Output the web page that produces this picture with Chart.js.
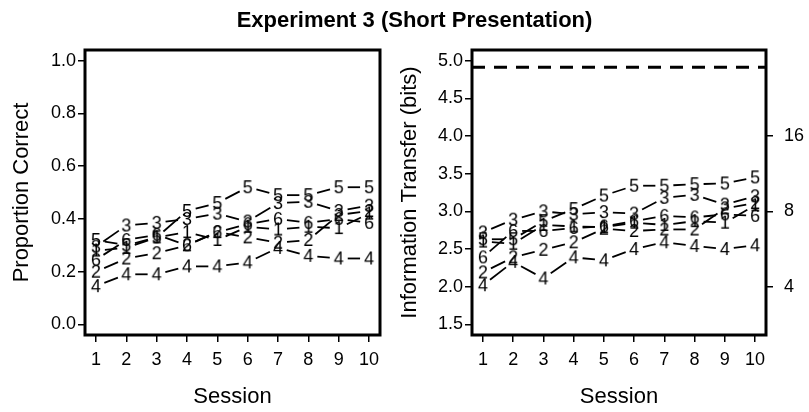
<!DOCTYPE html>
<html>
<head>
<meta charset="utf-8">
<script src="https://cdn.jsdelivr.net/npm/chart.js@4.4.1/dist/chart.umd.min.js"></script>
<style>
  body { margin: 0; background: #fff; }
  #wrap { position: relative; width: 809px; height: 412px; overflow: hidden; font-family: "Liberation Sans", Arial, sans-serif; }
  #title { position: absolute; left: 0; top: 6px; width: 829px; text-align: center; font-weight: bold; font-size: 22px; line-height: 28px; color: #000; }
  #left { position: absolute; left: 0; top: 0; }
  #right { position: absolute; left: 390px; top: 0; }
</style>
</head>
<body>
<div id="wrap">
  <canvas id="left" width="405" height="412"></canvas>
  <canvas id="right" width="419" height="412"></canvas>
  <div id="title">Experiment 3 (Short Presentation)</div>
</div>
<script>
const sessions = [1, 2, 3, 4, 5, 6, 7, 8, 9, 10]
const groups = ['1', '2', '3', '4', '5', '6']

// proportion correct per session, one row per group
const propCorrect = [
  [0.28, 0.29, 0.33, 0.35, 0.32, 0.37, 0.36, 0.37, 0.365, 0.42],
  [0.20, 0.25, 0.27, 0.30, 0.35, 0.33, 0.31, 0.32, 0.415, 0.43],
  [0.295, 0.375, 0.385, 0.40, 0.42, 0.39, 0.46, 0.465, 0.43, 0.45],
  [0.145, 0.19, 0.19, 0.22, 0.22, 0.235, 0.29, 0.26, 0.25, 0.25],
  [0.32, 0.30, 0.33, 0.43, 0.46, 0.52, 0.49, 0.49, 0.52, 0.52],
  [0.245, 0.32, 0.34, 0.30, 0.35, 0.38, 0.40, 0.385, 0.40, 0.385]
]

// information transfer in bits, same layout
const infoBits = [
  [2.60, 2.57, 2.82, 2.80, 2.79, 2.85, 2.82, 2.87, 2.85, 3.08],
  [2.19, 2.39, 2.49, 2.59, 2.77, 2.74, 2.76, 2.76, 3.04, 3.11],
  [2.72, 2.89, 3.00, 2.96, 2.99, 2.97, 3.18, 3.22, 3.09, 3.20],
  [2.02, 2.33, 2.11, 2.39, 2.35, 2.50, 2.59, 2.54, 2.50, 2.55],
  [2.63, 2.63, 2.87, 3.03, 3.21, 3.34, 3.34, 3.36, 3.37, 3.45],
  [2.39, 2.74, 2.74, 2.78, 2.80, 2.87, 2.94, 2.92, 2.96, 2.94]
]

const pcTicks = [0, 0.2, 0.4, 0.6, 0.8, 1.0]
const bitsTicks = [1.5, 2, 2.5, 3, 3.5, 4, 4.5, 5]
const setSizeTicks = [4, 8, 16]
const maxBits = 4.91

Chart.defaults.font.family = '"Liberation Sans", Arial, sans-serif'
Chart.defaults.color = '#000'

// each group is plotted with its number as the symbol
const digitImage = (d) => {
    const c = document.createElement('canvas')
    c.width = 16
    c.height = 22
    const g = c.getContext('2d')
    g.font = '18px "Liberation Sans", Arial, sans-serif'
    g.textAlign = 'center'
    g.fillStyle = '#000'
    g.fillText(d, 8, 11 + 18 * 0.358)
    return c
}

// lines between points, stopped short of each symbol
const gapLines = {
    id: 'gapLines',
    beforeDatasetsDraw(chart) {
        const ctx = chart.ctx
        const gap = 9
        ctx.save()
        ctx.strokeStyle = '#000'
        ctx.lineWidth = 1.8
        chart.data.datasets.forEach((ds, i) => {
            if (!ds.gapped) return
            const pts = chart.getDatasetMeta(i).data
            for (let k = 1; k < pts.length; k++) {
                const a = pts[k - 1], b = pts[k]
                const dx = b.x - a.x, dy = b.y - a.y
                const len = Math.hypot(dx, dy)
                if (len <= 2 * gap) continue
                const ux = dx / len, uy = dy / len
                ctx.beginPath()
                ctx.moveTo(a.x + ux * gap, a.y + uy * gap)
                ctx.lineTo(b.x - ux * gap, b.y - uy * gap)
                ctx.stroke()
            }
        })
        ctx.restore()
    }
}

const frame = {
    id: 'frame',
    afterDraw(chart) {
        const { left, top, right, bottom } = chart.chartArea
        const ctx = chart.ctx
        ctx.save()
        ctx.strokeStyle = '#000'
        ctx.lineWidth = 3
        ctx.strokeRect(left, top, right - left, bottom - top)
        ctx.restore()
    }
}

const tickGrid = { drawOnChartArea: false, drawTicks: true, tickLength: 7, color: '#000', lineWidth: 1.5 }

const sessionAxis = () => ({
    type: 'linear',
    min: 0.64,
    max: 10.36,
    afterBuildTicks: (s) => { s.ticks = sessions.map(v => ({ value: v })) },
    afterFit: (s) => { s.height = 77 },
    ticks: { autoSkip: false, maxRotation: 0, padding: 7, font: { size: 18 }, callback: (v) => String(v) },
    grid: tickGrid,
    border: { display: false },
    title: { display: true, text: 'Session', font: { size: 22 }, padding: { top: 0, bottom: 2 } }
})

const groupSets = (rows) => rows.map((row, i) => ({
    label: groups[i],
    data: row.map((v, k) => ({ x: sessions[k], y: v })),
    gapped: true,
    showLine: false,
    pointStyle: digitImage(groups[i]),
    pointRadius: 8
}))

new Chart(document.getElementById('left'), {
    type: 'scatter',
    data: { datasets: groupSets(propCorrect) },
    options: {
        responsive: false,
        animation: false,
        layout: { padding: { top: 50, right: 25, bottom: 0, left: 0 } },
        plugins: { legend: { display: false }, tooltip: { enabled: false } },
        scales: {
            x: sessionAxis(),
            y: {
                min: -0.04,
                max: 1.04,
                afterBuildTicks: (s) => { s.ticks = pcTicks.map(v => ({ value: v })) },
                afterFit: (s) => { s.width = 85 },
                ticks: { padding: 2, font: { size: 18 }, callback: (v) => v.toFixed(1) },
                grid: tickGrid,
                border: { display: false },
                title: { display: true, text: 'Proportion Correct', font: { size: 22 }, padding: { top: 9, bottom: 0 } }
            }
        }
    },
    plugins: [gapLines, frame]
})

const bitsSets = groupSets(infoBits)
bitsSets.push({
    label: 'max',
    data: [{ x: 0.64, y: maxBits }, { x: 10.36, y: maxBits }],
    showLine: true,
    borderColor: '#000',
    borderWidth: 3,
    borderDash: [13, 9],
    pointRadius: 0
})

new Chart(document.getElementById('right'), {
    type: 'scatter',
    data: { datasets: bitsSets },
    options: {
        responsive: false,
        animation: false,
        layout: { padding: { top: 50, right: 0, bottom: 0, left: 0 } },
        plugins: { legend: { display: false }, tooltip: { enabled: false } },
        scales: {
            x: sessionAxis(),
            y: {
                min: 1.36,
                max: 5.14,
                afterBuildTicks: (s) => { s.ticks = bitsTicks.map(v => ({ value: v })) },
                afterFit: (s) => { s.width = 82 },
                ticks: { padding: 2, font: { size: 18 }, callback: (v) => v.toFixed(1) },
                grid: tickGrid,
                border: { display: false },
                title: { display: true, text: 'Information Transfer (bits)', font: { size: 22 }, padding: { top: 7, bottom: 0 } }
            },
            y2: {
                position: 'right',
                min: 1.36,
                max: 5.14,
                afterBuildTicks: (s) => { s.ticks = setSizeTicks.map(n => ({ value: Math.log2(n) })) },
                afterFit: (s) => { s.width = 43 },
                ticks: { padding: 11, font: { size: 18 }, callback: (v) => String(Math.round(Math.pow(2, v))) },
                grid: tickGrid,
                border: { display: false }
            }
        }
    },
    plugins: [gapLines, frame]
})
</script>
</body>
</html>
